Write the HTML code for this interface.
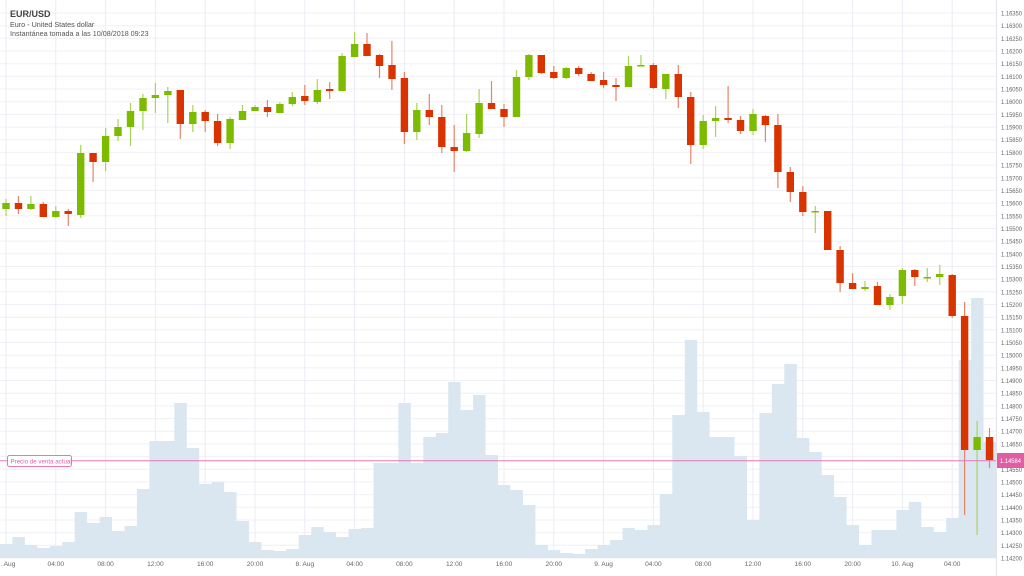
<!DOCTYPE html>
<html><head><meta charset="utf-8"><style>
html,body{margin:0;padding:0;background:#fff;width:1024px;height:576px;overflow:hidden}
svg{display:block;font-family:"Liberation Sans",sans-serif}
</style></head><body>
<svg id="c" width="1024" height="576" xmlns="http://www.w3.org/2000/svg"></svg>
<script>
var s='';
for(var i=0;i<=43;i++){var y=13+i*12.674;s+='<line x1="0" x2="996" y1="'+y.toFixed(1)+'" y2="'+y.toFixed(1)+'" stroke="#f0f0f6" stroke-width="1"/>';
 var p=(1.1635-i*0.0005).toFixed(5);s+='<text x="1001" y="'+(y+2.5).toFixed(1)+'" font-size="6.6" fill="#666" textLength="21" lengthAdjust="spacingAndGlyphs">'+p+'</text>';}
for(var k=0;k<20;k++){var x=6+49.8*k;s+='<line x1="'+x+'" x2="'+x+'" y1="0" y2="558" stroke="#ecebf5" stroke-width="1"/>';}
var vol=[544,537,545,548,546,542,512,523,517,531,526,489,441,441,403,448,484,482,492,521,542,550,551,549,535,527,532,537,529,528,463,463,403,463,437,433,382,410,395,455,485,490,505,545,550,553,554,549,545,540,528,530,525,494,415,340,412,437,437,456,520,413,384,364,438,452,475,497,525,545,530,530,510,502,527,532,518,360,298,442];
var d='M0 558';for(var h=0;h<vol.length;h++){var x0=h*12.45,x1=(h+1)*12.45;d+=' L'+x0.toFixed(1)+' '+vol[h]+' L'+x1.toFixed(1)+' '+vol[h];}d+=' L'+(80*12.45).toFixed(1)+' 558 Z';
s+='<path d="'+d+'" fill="#dae6f0"/>';
var C=[[1,203,209,199,216],[0,203,209,196,214],[1,204,209,196,210],[0,204,217,202,217],[1,211,217,206,218],[0,211,214,209,226],[1,153,215,145,218],[0,153,162,153,182],[1,136,162,128,171],[1,127,136,119,141],
[1,111,127,103,146],[1,98,111,94,130],[1,95,98,83,113],[1,91,95,87,123],[0,90,124,90,139],[1,112,124,105,132],[0,112,121,110,132],[0,121,143,114,146],[1,119,143,117,149],[1,111,120,105,120],
[1,107,111,105,111],[0,107,112,100,117],[1,104,113,102,113],[1,97,104,92,106],[0,96,101,85,105],[1,90,102,79,104],[0,89,91,82,99],[1,56,91,53,91],[1,44,57,32,57],[0,44,56,33,56],
[0,55,66,54,78],[0,65,79,41,90],[0,78,132,72,144],[1,110,132,103,140],[0,110,117,94,125],[0,117,147,105,153],[0,147,151,125,172],[1,133,151,114,152],[1,103,134,89,138],[0,103,109,81,109],
[0,109,117,104,127],[1,77,117,70,117],[1,55,77,54,80],[0,55,73,55,74],[0,72,78,66,79],[1,68,78,67,79],[0,68,74,66,76],[0,74,81,72,81],[0,80,85,72,88],[0,85,87,78,101],
[1,66,87,56,87],[1,65,66,55,66],[0,65,88,63,89],[1,74,89,74,99],[0,74,97,65,108],[0,97,145,92,164],[1,121,145,115,149],[1,118,121,106,137],[0,118,120,86,123],[0,120,131,116,134],
[1,114,131,109,135],[0,116,125,115,142],[0,125,172,114,188],[0,172,192,167,202],[0,192,212,186,216],[1,211,212,206,233],[0,211,250,211,250],[0,250,283,246,292],[0,283,289,273,289],[1,287,289,281,291],
[0,286,305,282,305],[1,297,305,294,310],[1,270,296,268,304],[0,270,277,269,286],[1,277,278,268,282],[1,274,277,265,285],[0,275,316,274,318],[0,316,450,302,515],[1,437,450,421,535],[0,437,460,428,468]];
for(var h=0;h<C.length;h++){var c=C[h],x=6+12.45*h,col=c[0]?'#7cbb00':'#d93400',wc=c[0]?'#a9d45a':'#e8836a';
 s+='<line x1="'+x.toFixed(1)+'" x2="'+x.toFixed(1)+'" y1="'+c[3]+'" y2="'+c[4]+'" stroke="'+wc+'" stroke-width="1.2"/>';
 var hh=Math.max(c[2]-c[1],1.5);s+='<rect x="'+(x-3.7).toFixed(1)+'" y="'+c[1]+'" width="7.4" height="'+hh+'" fill="'+col+'"/>';}
s+='<line x1="996.5" x2="996.5" y1="0" y2="576" stroke="#e4e4ec"/>';
s+='<line x1="0" x2="996" y1="460.7" y2="460.7" stroke="#e678b8" stroke-width="1"/>';
s+='<rect x="7.5" y="455.5" width="64" height="11" rx="2" fill="#fff" stroke="#e678b8" stroke-width="1"/>';
s+='<text x="10.5" y="463.5" font-size="6.2" fill="#e060a8">Precio de venta actual</text>';
s+='<rect x="997" y="453" width="27" height="15" fill="#df5fa5"/>';
s+='<text x="1000" y="463" font-size="6.6" fill="#fff" textLength="21" lengthAdjust="spacingAndGlyphs">1.14584</text>';
var L=['7. Aug','04:00','08:00','12:00','16:00','20:00','8. Aug','04:00','08:00','12:00','16:00','20:00','9. Aug','04:00','08:00','12:00','16:00','20:00','10. Aug','04:00'];
for(var k=0;k<L.length;k++){var x=6+49.8*k;s+='<text x="'+x.toFixed(1)+'" y="566" font-size="6.6" fill="#666" text-anchor="middle">'+L[k]+'</text>';}
s+='<text x="10" y="17" font-size="9" font-weight="bold" fill="#444">EUR/USD</text>';
s+='<text x="10" y="27" font-size="7.2" fill="#555">Euro - United States dollar</text>';
s+='<text x="10" y="36" font-size="7.2" fill="#555">Instantánea tomada a las 10/08/2018 09:23</text>';
document.getElementById('c').innerHTML=s;
</script>
</body></html>
